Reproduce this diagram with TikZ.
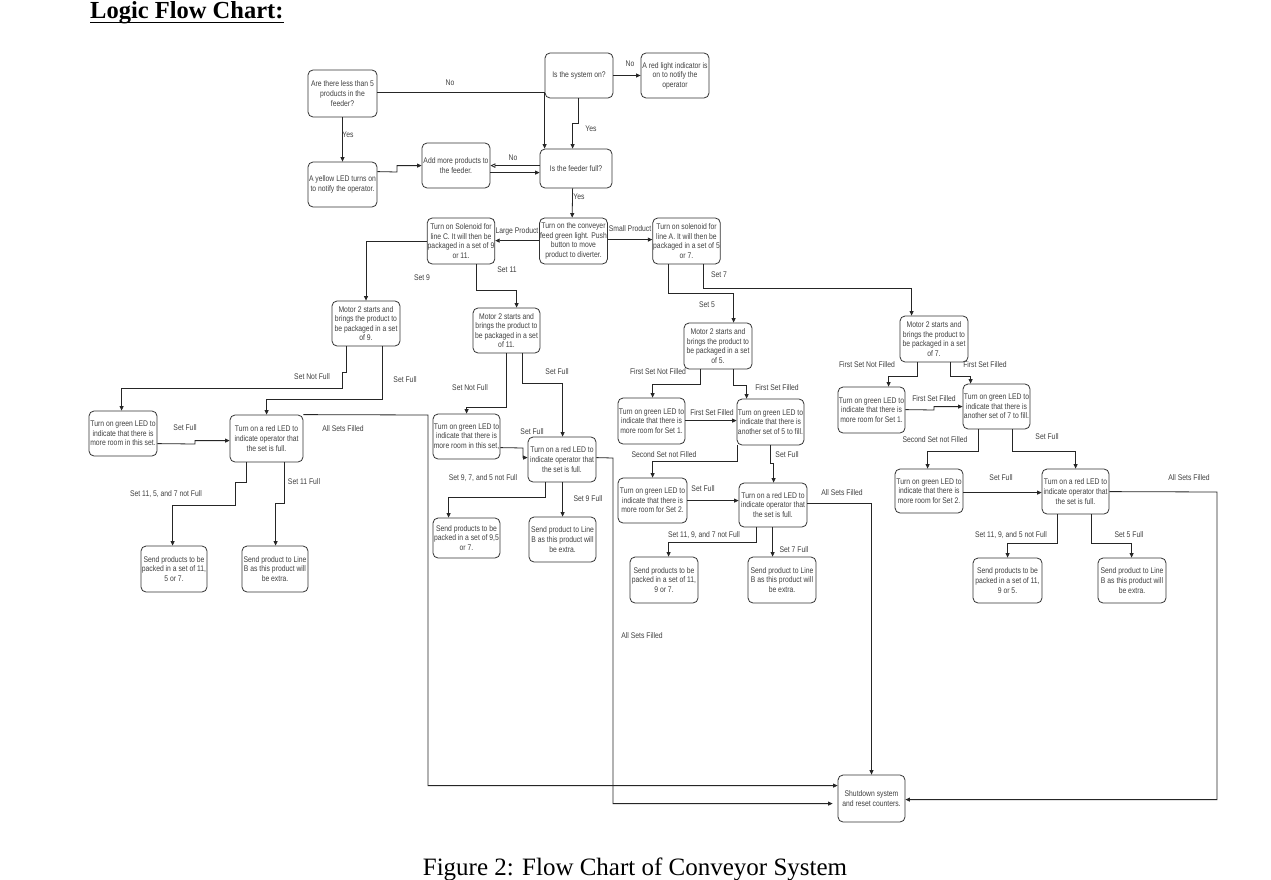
\documentclass[tikz,border=0pt]{standalone}
\usepackage{fontspec}
\setmainfont{Liberation Serif}
\newfontfamily\boxfont[FakeStretch=0.83]{Liberation Sans}
\usetikzlibrary{arrows.meta,calc}
\tikzset{
  box/.style={draw=black!80, line width=0.8pt, rounded corners=5pt, align=center,
    inner sep=0.5pt, text=black!75, font=\boxfont\fontsize{8.2}{9.6}\selectfont},
  lbltxt/.style={inner sep=0pt, text=black!75, font=\boxfont\fontsize{8.2}{9.6}\selectfont},
  arr/.style={draw=black!85, line width=0.8pt, -{Triangle[length=4.5pt,width=4pt]}},
  arro/.style={draw=black!85, line width=0.8pt, -{Triangle[open,length=5pt,width=4.5pt]}},
}
\newcommand\flowbox[6]{\node[box,minimum width={(#4)-(#2)},minimum height={(#5)-(#3)}] (#1) at ({((#2)+(#4))/2},{((#3)+(#5))/2}) {#6};}
\newcommand\edgetext[4]{\node[lbltxt] (#1) at (#2,#3) {#4};}
\begin{document}
\begin{tikzpicture}[x=1pt,y=-1pt]
\path[fill=white,use as bounding box] (0,0) rectangle (1271,880);

% title and caption
\node[anchor=base west, inner sep=0pt, font=\bfseries\fontsize{24.5}{28}\selectfont] (title) at (90,19) {Logic Flow Chart:};
\draw[line width=1.8pt] ($(title.base west)+(0,3.5)$) -- ($(title.base east)+(0,3.5)$);
\node[anchor=base, inner sep=0pt, font=\fontsize{25}{30}\selectfont] (caption) at (635,875) {Figure 2: Flow Chart of Conveyor System};

% boxes
\flowbox{q5}{308}{70}{377}{117}{Are there less than 5\\products in the\\feeder?}
\flowbox{syson}{545}{53}{613}{98}{Is the system on?}
\flowbox{redlight}{641}{53}{709}{98}{A red light indicator is\\on to notify the\\operator}
\flowbox{yellow}{308}{162}{377}{207}{A yellow LED turns on\\to notify the operator.}
\flowbox{add}{422}{143}{490}{188}{Add more products to\\the feeder.}
\flowbox{feeder}{540}{149}{612}{188}{Is the feeder full?}
\flowbox{conv}{540}{218}{607}{264}{Turn on the conveyer\\feed green light. Push\\button to move\\product to diverter.}
\flowbox{solc}{428}{218}{494}{264}{Turn on Solenoid for\\line C. It will then be\\packaged in a set of 9\\or 11.}
\flowbox{sola}{653}{218}{720}{264}{Turn on solenoid for\\line A. It will then be\\packaged in a set of 5\\or 7.}
\flowbox{m9}{332}{301}{400}{346}{Motor 2 starts and\\brings the product to\\be packaged in a set\\of 9.}
\flowbox{m11}{473}{308}{540}{353}{Motor 2 starts and\\brings the product to\\be packaged in a set\\of 11.}
\flowbox{m5}{684}{323}{752}{369}{Motor 2 starts and\\brings the product to\\be packaged in a set\\of 5.}
\flowbox{m7}{900}{316}{968}{362}{Motor 2 starts and\\brings the product to\\be packaged in a set\\of 7.}
\flowbox{greenA}{89}{411}{157}{456}{Turn on green LED to\\indicate that there is\\more room in this set.}
\flowbox{redA}{230}{415}{303}{462}{Turn on a red LED to\\indicate operator that\\the set is full.}
\flowbox{sendA1}{141}{546}{207}{592}{Send products to be\\packed in a set of 11,\\5 or 7.}
\flowbox{sendA2}{242}{546}{308}{592}{Send product to Line\\B as this product will\\be extra.}
\flowbox{greenB}{433}{414}{500}{459}{Turn on green LED to\\indicate that there is\\more room in this set,}
\flowbox{redB}{528}{437}{596}{482}{Turn on a red LED to\\indicate operator that\\the set is full.}
\flowbox{sendB1}{433}{518}{500}{558}{Send products to be\\packed in a set of 9,5\\or 7.}
\flowbox{sendB2}{529}{517}{596}{562}{Send product to Line\\B as this product will\\be extra.}
\flowbox{g5a}{618}{398}{685}{444}{Turn on green LED to\\indicate that there is\\more room for Set 1.}
\flowbox{g5b}{737}{399}{804}{445}{Turn on green LED to\\indicate that there is\\another set of 5 to fill.}
\flowbox{g5c}{618}{478}{687}{523}{Turn on green LED to\\indicate that there is\\more room for Set 2.}
\flowbox{red5}{739}{483}{807}{527}{Turn on a red LED to\\indicate operator that\\the set is full.}
\flowbox{send5a}{630}{557}{698}{603}{Send products to be\\packed in a set of 11,\\9 or 7.}
\flowbox{send5b}{748}{557}{816}{603}{Send product to Line\\B as this product will\\be extra.}
\flowbox{g7a}{838}{387}{905}{433}{Turn on green LED to\\indicate that there is\\more room for Set 1.}
\flowbox{g7b}{963}{384}{1030}{429}{Turn on green LED to\\indicate that there is\\another set of 7 to fill.}
\flowbox{g7c}{895}{469}{963}{513}{Turn on green LED to\\indicate that there is\\more room for Set 2.}
\flowbox{red7}{1042}{469}{1109}{514}{Turn on a red LED to\\indicate operator that\\the set is full.}
\flowbox{send7a}{973}{558}{1042}{603}{Send products to be\\packed in a set of 11,\\9 or 5.}
\flowbox{send7b}{1098}{558}{1166}{603}{Send product to Line\\B as this product will\\be extra.}
\flowbox{shutdown}{838}{775}{905}{822}{Shutdown system\\and reset counters.}

% connectors: top part
\draw[arr] ($(q5.north east)+(0,23)$) -| ($(feeder.north west)+(5,0)$);
\draw[arr] ($(syson.south west)+(34,0)$) -- ++(0,25) -| ($(feeder.north west)+(33,0)$);
\draw[arr] (syson.east) -- (redlight.west);
\draw[arr] (q5.south) -- (yellow.north);
\draw[arr] ($(yellow.north east)+(0,10)$) -- (397,172) |- ($(add.north west)+(0,23)$);
\draw[arro] ($(feeder.north west)+(0,17)$) -- ($(add.north east)+(0,23)$);
\draw[arr] ($(add.north east)+(0,30)$) -- ($(feeder.north west)+(0,24)$);
\draw[arr] ($(feeder.south west)+(33,0)$) -- ($(conv.north west)+(33,0)$);
\draw[arr] ($(conv.north west)+(0,23)$) -- ($(solc.north east)+(0,23)$);
\draw[arr] ($(conv.north east)+(0,22)$) -- ($(sola.north west)+(0,22)$);
\draw[arr] (solc.west) -| (m9.north);
\draw[arr] ($(solc.south west)+(50,0)$) -- ++(0,26) -| ($(m11.north west)+(44,0)$);
\draw[arr] ($(sola.south west)+(16,0)$) -- ++(0,29) -| ($(m5.north west)+(50,0)$);
\draw[arr] ($(sola.south west)+(51,0)$) -- ++(0,24) -| ($(m7.north west)+(12,0)$);

% set 9 branch
\draw[arr] ($(m9.south west)+(15,0)$) -- ++(0,26) -- ++(-4,0) -- ++(0,16) -| ($(greenA.north west)+(33,0)$);
\draw[arr] ($(m9.south west)+(51,0)$) -- ++(0,53) -| ($(redA.north west)+(37,0)$);
\draw[arr] ($(greenA.north east)+(0,33)$) -- (195,444) |- ($(redA.north west)+(0,26)$);
\draw[arr] (redA.north east) -- (428,415) |- ($(shutdown.north west)+(0,11)$);
\draw[arr] ($(redA.south west)+(17,0)$) -- ++(0,20) -- ++(-11,0) -- ++(0,23) -| ($(sendA1.north west)+(32,0)$);
\draw[arr] ($(redA.south west)+(55,0)$) -- ++(0,41) -- ++(-9,0) -- ($(sendA2.north west)+(34,0)$);

% set 11 branch
\draw[arr] ($(m11.south west)+(34,0)$) -- ++(0,54) -| ($(greenB.north west)+(34,0)$);
\draw[arr] ($(m11.south west)+(50,0)$) -- ++(0,30) -| ($(redB.north west)+(35,0)$);
\draw[arr] ($(greenB.north east)+(0,34)$) -- (523,448) |- ($(redB.north west)+(0,21)$);
\draw[arr,shorten >=5pt] ($(redB.north east)+(0,21)$) -- (613,458) |- ($(shutdown.north west)+(0,29)$);
\draw[arr] ($(redB.south west)+(18,0)$) -- ++(0,15) -| ($(sendB1.north west)+(16,0)$);
\draw[arr] ($(redB.south west)+(35,0)$) -- ($(sendB2.north west)+(34,0)$);

% set 5 branch
\draw[arr] ($(m5.south west)+(17,0)$) -- ++(0,15) -| ($(g5a.north west)+(35,0)$);
\draw[arr] ($(m5.south west)+(50,0)$) -- ++(0,16) -| ($(g5b.north west)+(10,0)$);
\draw[arr] ($(g5a.north east)+(0,23)$) -- ($(g5b.north west)+(0,22)$);
\draw[arr] ($(g5b.south west)+(1,0)$) -- ++(0,16) -| ($(g5c.north west)+(35,0)$);
\draw[arr] ($(g5b.south west)+(34,0)$) -- ++(0,18) -- ++(3,0) -- ($(red5.north west)+(35,0)$);
\draw[arr] ($(g5c.north east)+(0,23)$) -- ($(red5.north west)+(0,18)$);
\draw[arr] ($(red5.north east)+(0,21)$) -| (shutdown.north);
\draw[arr] ($(red5.south west)+(18,0)$) -- ++(0,15) -| ($(send5a.north west)+(39,0)$);
\draw[arr] ($(red5.south west)+(34,0)$) -- ($(send5b.north west)+(25,0)$);

% set 7 branch
\draw[arr] ($(m7.south west)+(18,0)$) -- ++(0,14) -| ($(g7a.north west)+(51,0)$);
\draw[arr] ($(m7.south west)+(51,0)$) -- ++(0,14) -| ($(g7b.north west)+(8,0)$);
\draw[arr] ($(g7a.north east)+(0,23)$) -- (934,410) |- ($(g7b.north west)+(0,23)$);
\draw[arr] ($(g7b.south west)+(16,0)$) -- ++(0,22) -| ($(g7c.north west)+(33,0)$);
\draw[arr] ($(g7b.south west)+(50,0)$) -- ++(0,22) -| ($(red7.north west)+(34,0)$);
\draw[arr] ($(g7c.north east)+(0,24)$) -- ($(red7.north west)+(0,24)$);
\draw[arr] ($(red7.north east)+(0,23)$) -- (1217,492) |- ($(shutdown.north east)+(0,25)$);
\draw[arr] ($(red7.south west)+(16,0)$) -- ++(0,29) -| ($(send7a.north west)+(35,0)$);
\draw[arr] ($(red7.south west)+(50,0)$) -- ++(0,29) -| ($(send7b.north west)+(34,0)$);

% labels
\edgetext{l1}{450}{83}{No}
\edgetext{l2}{630}{64}{No}
\edgetext{l3}{591}{129}{Yes}
\edgetext{l4}{348}{135}{Yes}
\edgetext{l5}{513}{158}{No}
\edgetext{l6}{579}{197}{Yes}
\edgetext{l7}{517}{231}{Large Product}
\edgetext{l8}{630}{229}{Small Product}
\edgetext{l9}{422}{278}{Set 9}
\edgetext{l10}{507}{270}{Set 11}
\edgetext{l11}{719}{275}{Set 7}
\edgetext{l12}{707}{305}{Set 5}
\edgetext{l13}{312}{377}{Set Not Full}
\edgetext{l14}{405}{380}{Set Full}
\edgetext{l15}{185}{428}{Set Full}
\edgetext{l16}{343}{429}{All Sets Filled}
\edgetext{l17}{166}{494}{Set 11, 5, and 7 not Full}
\edgetext{l18}{304}{482}{Set 11 Full}
\edgetext{l19}{470}{388}{Set Not Full}
\edgetext{l20}{557}{372}{Set Full}
\edgetext{l21}{532}{432}{Set Full}
\edgetext{l22}{483}{478}{Set 9, 7, and 5 not Full}
\edgetext{l23}{588}{499}{Set 9 Full}
\edgetext{l24}{642}{636}{All Sets Filled}
\edgetext{l25}{658}{372}{First Set Not Filled}
\edgetext{l26}{777}{388}{First Set Filled}
\edgetext{l27}{712}{413}{First Set Filled}
\edgetext{l28}{664}{455}{Second Set not Filled}
\edgetext{l29}{787}{455}{Set Full}
\edgetext{l30}{703}{489}{Set Full}
\edgetext{l31}{842}{493}{All Sets Filled}
\edgetext{l32}{704}{535}{Set 11, 9, and 7 not Full}
\edgetext{l33}{794}{550}{Set 7 Full}
\edgetext{l34}{867}{365}{First Set Not Filled}
\edgetext{l35}{985}{365}{First Set Filled}
\edgetext{l36}{934}{399}{First Set Filled}
\edgetext{l37}{935}{440}{Second Set not Filled}
\edgetext{l38}{1047}{437}{Set Full}
\edgetext{l39}{1001}{478}{Set Full}
\edgetext{l40}{1189}{478}{All Sets Filled}
\edgetext{l41}{1011}{535}{Set 11, 9, and 5 not Full}
\edgetext{l42}{1129}{535}{Set 5 Full}
\end{tikzpicture}
\end{document}
